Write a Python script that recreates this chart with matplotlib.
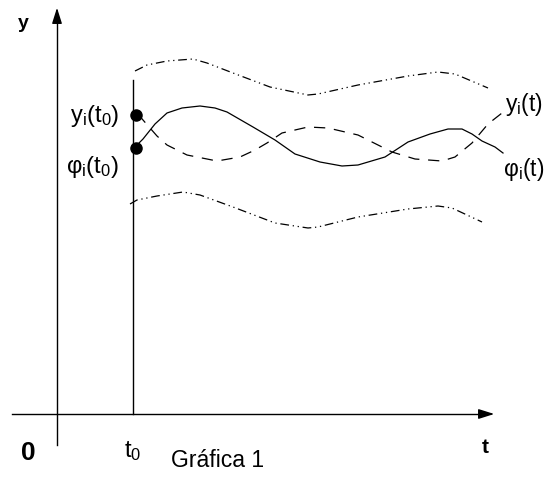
import numpy as np
import matplotlib.pyplot as plt

plt.rcParams['font.family'] = ['Liberation Sans', 'DejaVu Sans']
plt.rcParams['mathtext.fontset'] = 'custom'
plt.rcParams['mathtext.rm'] = 'Liberation Sans'
plt.rcParams['mathtext.it'] = 'Liberation Sans'

# picture coordinates: x to the right, y downwards (pixels of the sketch)
t0 = 133

# solid curve phi_i(t)
phi_x = [135, 143, 155, 167, 182, 200, 215, 227, 253, 275, 295, 320, 342, 358, 385, 408, 430, 448, 462, 472, 482, 495, 503]
phi_y = [147, 139, 124, 113, 108, 106, 108, 112, 127, 140, 154, 162, 166, 165, 157, 142, 134, 129, 129, 134, 141, 147, 153]

# dashed curve y_i(t)
yi_x = [138, 143, 157, 167, 187, 217, 240, 255, 267, 282, 308, 328, 358, 392, 415, 442, 455, 472, 488, 502]
yi_y = [114, 120, 136, 145, 155, 161, 157, 150, 143, 133, 127, 128, 135, 152, 159, 161, 157, 143, 124, 113]

# upper and lower bounds (dash-dot)
up_x = [135, 147, 167, 193, 207, 233, 270, 308, 318, 358, 408, 438, 455, 488]
up_y = [71, 65, 61, 59, 63, 73, 87, 95, 94, 85, 76, 72, 74, 88]
lo_x = [130, 137, 157, 183, 200, 233, 275, 308, 318, 358, 408, 438, 452, 482]
lo_y = [204, 200, 196, 192, 195, 207, 223, 228, 227, 217, 209, 206, 208, 222]

# initial points
dot_x = [136, 136]
dot_y = [115, 148]

fig = plt.figure(figsize=(5.49, 4.79), dpi=100)
ax = fig.add_axes([0, 0, 1, 1])
ax.set_xlim(0, 549)
ax.set_ylim(479, 0)
ax.axis('off')

k = dict(color='black', lw=1.0)
arr = dict(arrowstyle='-|>,head_length=0.95,head_width=0.3', color='black', lw=1.0)
# axes with arrows
ax.plot([12, 486], [414, 414], **k)
ax.annotate('', xy=(497, 414), xytext=(480, 414), arrowprops=arr)
ax.plot([57, 57], [445, 15], **k)
ax.annotate('', xy=(57, 5), xytext=(57, 22), arrowprops=arr)
ax.plot([t0, t0], [80, 414], **k)

ax.plot(phi_x, phi_y, '-', color='black', lw=0.9)
ax.plot(yi_x, yi_y, color='black', lw=0.9, linestyle=(0, (9, 7)))
ax.plot(up_x, up_y, color='black', lw=0.9, linestyle=(0, (7, 3, 1, 3, 1, 3)))
ax.plot(lo_x, lo_y, color='black', lw=0.9, linestyle=(0, (7, 3, 1, 3, 1, 3)))
ax.plot(dot_x, dot_y, 'o', color='black', ms=8)

fs = 17
ax.text(18, 28, 'y', fontsize=14, fontweight='bold', ha='left', va='baseline')
ax.text(21, 460, '0', fontsize=19, fontweight='bold', ha='left', va='baseline')
ax.text(485, 453, 't', fontsize=15, fontweight='bold', ha='center', va='baseline')
ax.text(124, 457, r'$\mathregular{t_0}$', fontsize=17, ha='left', va='baseline')
ax.text(171, 467, 'Gráfica 1', fontsize=16.5, ha='left', va='baseline')
ax.text(119, 122, r'$\mathregular{y_i(t_0)}$', fontsize=fs, ha='right', va='baseline')
ax.text(119, 173, r'$\mathregular{φ_i(t_0)}$', fontsize=fs, ha='right', va='baseline')
ax.text(505, 111, r'$\mathregular{y_i(t)}$', fontsize=16.5, ha='left', va='baseline')
ax.text(503, 176, r'$\mathregular{φ_i(t)}$', fontsize=16.5, ha='left', va='baseline')

fig.savefig('out.png', dpi=100)
